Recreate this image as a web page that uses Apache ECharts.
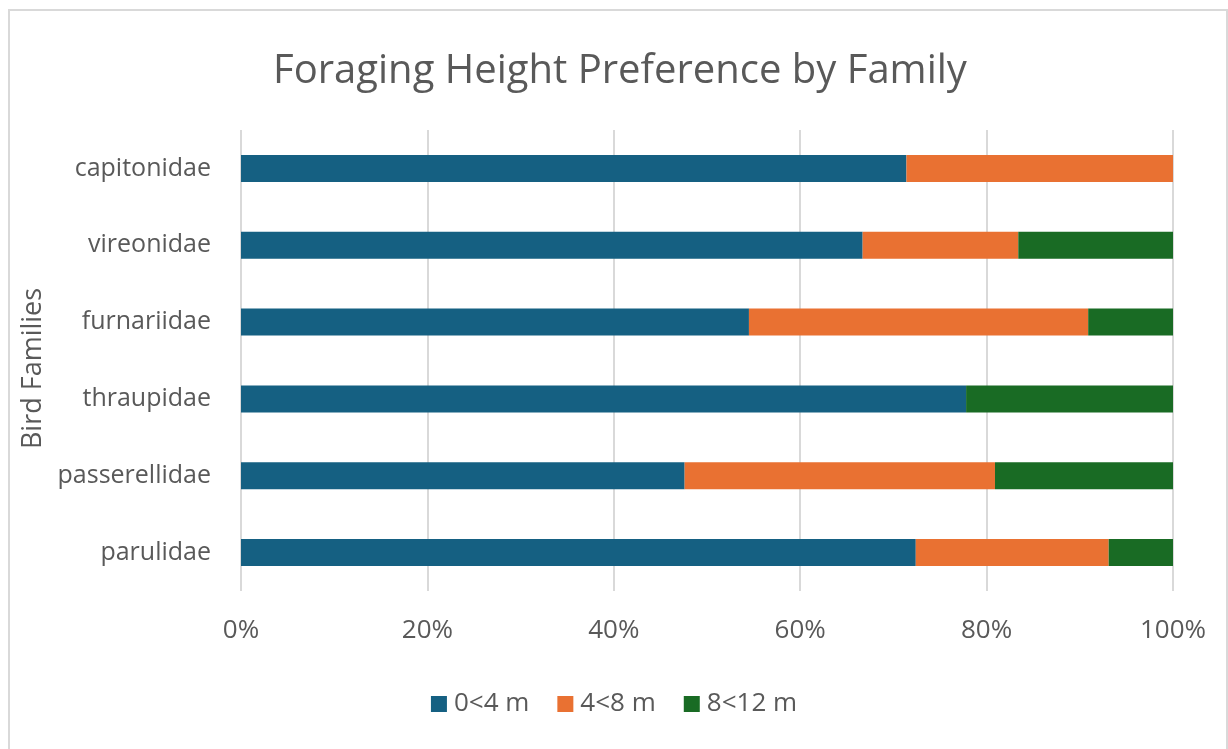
<!DOCTYPE html>
<html>
<head>
<meta charset="utf-8">
<script src="https://cdn.jsdelivr.net/npm/echarts@6/dist/echarts.min.js"></script>
<style>
  html, body { margin: 0; padding: 0; background: #fff; }
  #chart { width: 1228px; height: 749px; }
</style>
</head>
<body>
<div id="chart"></div>
<script>
// Bird families, listed bottom to top on the category axis
const families = ['parulidae', 'passerellidae', 'thraupidae', 'furnariidae', 'vireonidae', 'capitonidae'];

// Share of foraging observations per height band (%)
const low = [72.4, 47.6, 77.8, 54.5, 66.7, 71.4];   // 0<4 m
const mid = [20.7, 33.3, 0, 36.4, 16.7, 28.6];      // 4<8 m
const high = [6.9, 19.1, 22.2, 9.1, 16.6, 0];       // 8<12 m

const bandNames = ['0<4 m', '4<8 m', '8<12 m'];
const percentTicks = [0, 20, 40, 60, 80, 100];

const colors = ['#156082', '#E97132', '#196B24'];
const textColor = '#595959';
const font = '"Open Sans", sans-serif';

const chart = echarts.init(document.getElementById('chart'), null, { renderer: 'canvas' });

const seriesData = [low, mid, high];

chart.setOption({
  animation: false,
  color: colors,
  textStyle: { fontFamily: font },
  graphic: [{
    type: 'rect',
    shape: { x: 9, y: 10, width: 1218, height: 745 },
    style: { fill: 'none', stroke: '#d9d9d9', lineWidth: 2 },
    silent: true,
    z: -10
  }],
  title: {
    text: 'Foraging Height Preference by Family',
    left: 268,
    top: 47,
    textStyle: { color: textColor, fontSize: 40, fontWeight: 'normal', fontFamily: font }
  },
  legend: {
    bottom: 27,
    left: 'center',
    itemWidth: 16,
    itemHeight: 16,
    itemGap: 28,
    icon: 'rect',
    data: bandNames,
    textStyle: { color: textColor, fontSize: 26, fontFamily: font, padding: [0, 0, 0, 2] }
  },
  grid: { left: 241, right: 55, top: 130, bottom: 158, containLabel: false },
  xAxis: {
    type: 'value',
    min: percentTicks[0],
    max: percentTicks[percentTicks.length - 1],
    interval: 20,
    axisLine: { show: false },
    axisTick: { show: false },
    splitLine: { lineStyle: { color: '#d9d9d9', width: 2 } },
    axisLabel: { color: textColor, fontSize: 26, margin: 27, formatter: '{value}%', fontFamily: font }
  },
  yAxis: {
    type: 'category',
    data: families,
    name: 'Bird Families',
    nameLocation: 'middle',
    nameRotate: 90,
    nameGap: 190,
    nameTextStyle: { color: textColor, fontSize: 27, fontFamily: font, padding: [0, 16, 0, 0] },
    axisLine: { show: false },
    axisTick: { show: false },
    axisLabel: { color: textColor, fontSize: 25, margin: 30, fontFamily: font }
  },
  series: bandNames.map((name, i) => ({
    name: name,
    type: 'bar',
    stack: 'share',
    barWidth: 27,
    data: seriesData[i],
    itemStyle: { color: colors[i] }
  }))
});
</script>
</body>
</html>
